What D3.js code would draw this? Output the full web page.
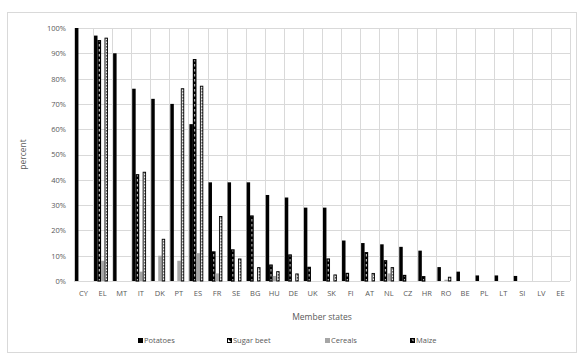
<!DOCTYPE html>
<html>
<head>
<meta charset="utf-8">
<script src="https://cdn.jsdelivr.net/npm/d3@7"></script>
<style>
  body { margin: 0; background: #fff; }
  text { font-family: "Open Sans", "DejaVu Sans", sans-serif; fill: #595959; }
</style>
</head>
<body>
<div id="chart"></div>
<script>
// Dữ liệu
const countries = ["CY","EL","MT","IT","DK","PT","ES","FR","SE","BG","HU","DE","UK","SK","FI","AT","NL","CZ","HR","RO","BE","PL","LT","SI","LV","EE"];
const crops = ["Potatoes","Sugar beet","Cereals","Maize"];
const potatoes  = [100, 97, 90, 76, 72, 70, 62, 39, 39, 39, 34, 33, 29, 29, 16, 15, 14.5, 13.5, 12, 5.5, 3.7, 2.2, 2.2, 2, 0, 0];
const sugarBeet = [0, 95, 0, 42, 0, 0, 87.5, 11.5, 12.3, 25.7, 6.3, 10.3, 5.4, 8.7, 3, 11.2, 8, 2.2, 1.7, 0, 0, 0, 0, 0, 0, 0];
const cereals   = [0, 8, 0, 3.7, 10, 8, 11, 3, 0, 0, 2, 0, 0, 0, 0, 0, 3, 0, 0, 0.5, 0, 0, 0, 0, 0, 0];
const maize     = [0, 96, 0, 43, 16.5, 76, 77, 25.5, 8.7, 5.3, 3.7, 2.8, 0, 2.4, 0, 3, 5.3, 0, 0, 1.5, 0, 0, 0, 0, 0, 0];
const yTicks = [0,10,20,30,40,50,60,70,80,90,100];

const series = [potatoes, sugarBeet, cereals, maize];
const data = countries.map((c, i) => ({
  country: c,
  values: crops.map((k, j) => ({ crop: k, value: series[j][i] }))
}));

const W = 579, H = 354;
const margin = { top: 28, right: 9, bottom: 73, left: 74 };
const width = W - margin.left - margin.right,
      height = H - margin.top - margin.bottom;

const svg = d3.select("#chart").append("svg")
  .attr("width", W).attr("height", H);

// Hoa văn cho các cột
const defs = svg.append("defs");
const pSugar = defs.append("pattern").attr("id", "sugar")
  .attr("patternUnits", "userSpaceOnUse").attr("width", 4).attr("height", 5);
pSugar.append("rect").attr("width", 4).attr("height", 5).attr("fill", "#000");
pSugar.append("rect").attr("x", 1.5).attr("y", 1).attr("width", 1.3).attr("height", 2.5).attr("fill", "#fff");

const pMaize = defs.append("pattern").attr("id", "maize")
  .attr("patternUnits", "userSpaceOnUse").attr("width", 4).attr("height", 3);
pMaize.append("rect").attr("width", 4).attr("height", 3).attr("fill", "#eee");
pMaize.append("rect").attr("x", 1).attr("y", 0).attr("width", 2).attr("height", 1.6).attr("fill", "#555");

const fills = { "Potatoes": "#000", "Sugar beet": "url(#sugar)", "Cereals": "#a6a6a6", "Maize": "url(#maize)" };
const strokes = { "Potatoes": "none", "Sugar beet": "#000", "Cereals": "none", "Maize": "#000" };

// Khung ngoài
svg.append("rect")
  .attr("x", 7.5).attr("y", 12.5).attr("width", W - 10).attr("height", H - 14)
  .attr("fill", "none").attr("stroke", "#d9d9d9");

const g = svg.append("g").attr("transform", `translate(${margin.left},${margin.top})`);

const x = d3.scaleBand().domain(countries).range([0, width]).padding(0);
const x1 = d3.scaleBand().domain(crops)
  .range([x.bandwidth() * 0.05, x.bandwidth() * 0.78]).padding(0);
const y = d3.scaleLinear().domain([0, 100]).range([height, 0]);

// Lưới ngang
g.append("g").selectAll("line").data(yTicks).join("line")
  .attr("x1", 0).attr("x2", width)
  .attr("y1", d => Math.round(y(d)) + 0.5).attr("y2", d => Math.round(y(d)) + 0.5)
  .attr("stroke", "#d9d9d9");

// Lưới dọc
g.append("g").selectAll("line").data(countries.concat(["_end"])).join("line")
  .attr("x1", (d, i) => Math.round(i * x.bandwidth()) + 0.5)
  .attr("x2", (d, i) => Math.round(i * x.bandwidth()) + 0.5)
  .attr("y1", 0).attr("y2", height)
  .attr("stroke", "#d9d9d9");

// Trục Y
g.append("g")
  .call(d3.axisLeft(y).tickValues(yTicks).tickSize(0).tickPadding(8).tickFormat(d => d + "%"))
  .call(a => a.select(".domain").remove())
  .selectAll("text").style("font-size", "7.5px").style("fill", "#595959");

// Trục X
g.append("g")
  .attr("transform", `translate(0,${height})`)
  .call(d3.axisBottom(x).tickSize(0).tickPadding(10))
  .call(a => a.select(".domain").remove())
  .selectAll("text").style("font-size", "7.5px").style("fill", "#595959");

// Cột
const groups = g.append("g").selectAll("g").data(data).join("g")
  .attr("transform", d => `translate(${x(d.country)},0)`);

groups.selectAll("rect").data(d => d.values.filter(v => v.value > 0)).join("rect")
  .attr("x", d => x1(d.crop) + (strokes[d.crop] === "none" ? 0 : 0.5))
  .attr("y", d => y(d.value))
  .attr("width", d => x1.bandwidth() - (strokes[d.crop] === "none" ? 0 : 1))
  .attr("height", d => height - y(d.value))
  .attr("fill", d => fills[d.crop])
  .attr("stroke", d => strokes[d.crop])
  .attr("stroke-width", d => d.crop === "Sugar beet" ? 1.2 : 0.9);

// Tiêu đề trục
svg.append("text")
  .attr("x", margin.left + width / 2).attr("y", 320)
  .attr("text-anchor", "middle").style("font-size", "8.5px")
  .text("Member states");

svg.append("text")
  .attr("transform", `translate(26,${margin.top + height / 2}) rotate(-90)`)
  .attr("text-anchor", "middle").style("font-size", "8.5px")
  .text("percent");

// Chú thích
const legendX = [138, 227, 325, 410];
const legend = svg.append("g").selectAll("g").data(crops).join("g")
  .attr("transform", (d, i) => `translate(${legendX[i]},338)`);
legend.append("rect")
  .attr("width", 5).attr("height", 5)
  .attr("fill", d => d === "Sugar beet" ? "#000" : d === "Maize" ? "#000" : fills[d]);
legend.filter(d => d === "Sugar beet" || d === "Maize").append("path")
  .attr("d", d => d === "Sugar beet" ? "M1,1 L4,4 L1,4 Z" : "M1.5,1.5 L3.5,1.5 L3.5,3.5 Z")
  .attr("fill", "#fff");
legend.append("text")
  .attr("x", 6).attr("y", 4.8)
  .style("font-size", "7.5px")
  .text(d => d);
</script>
</body>
</html>
